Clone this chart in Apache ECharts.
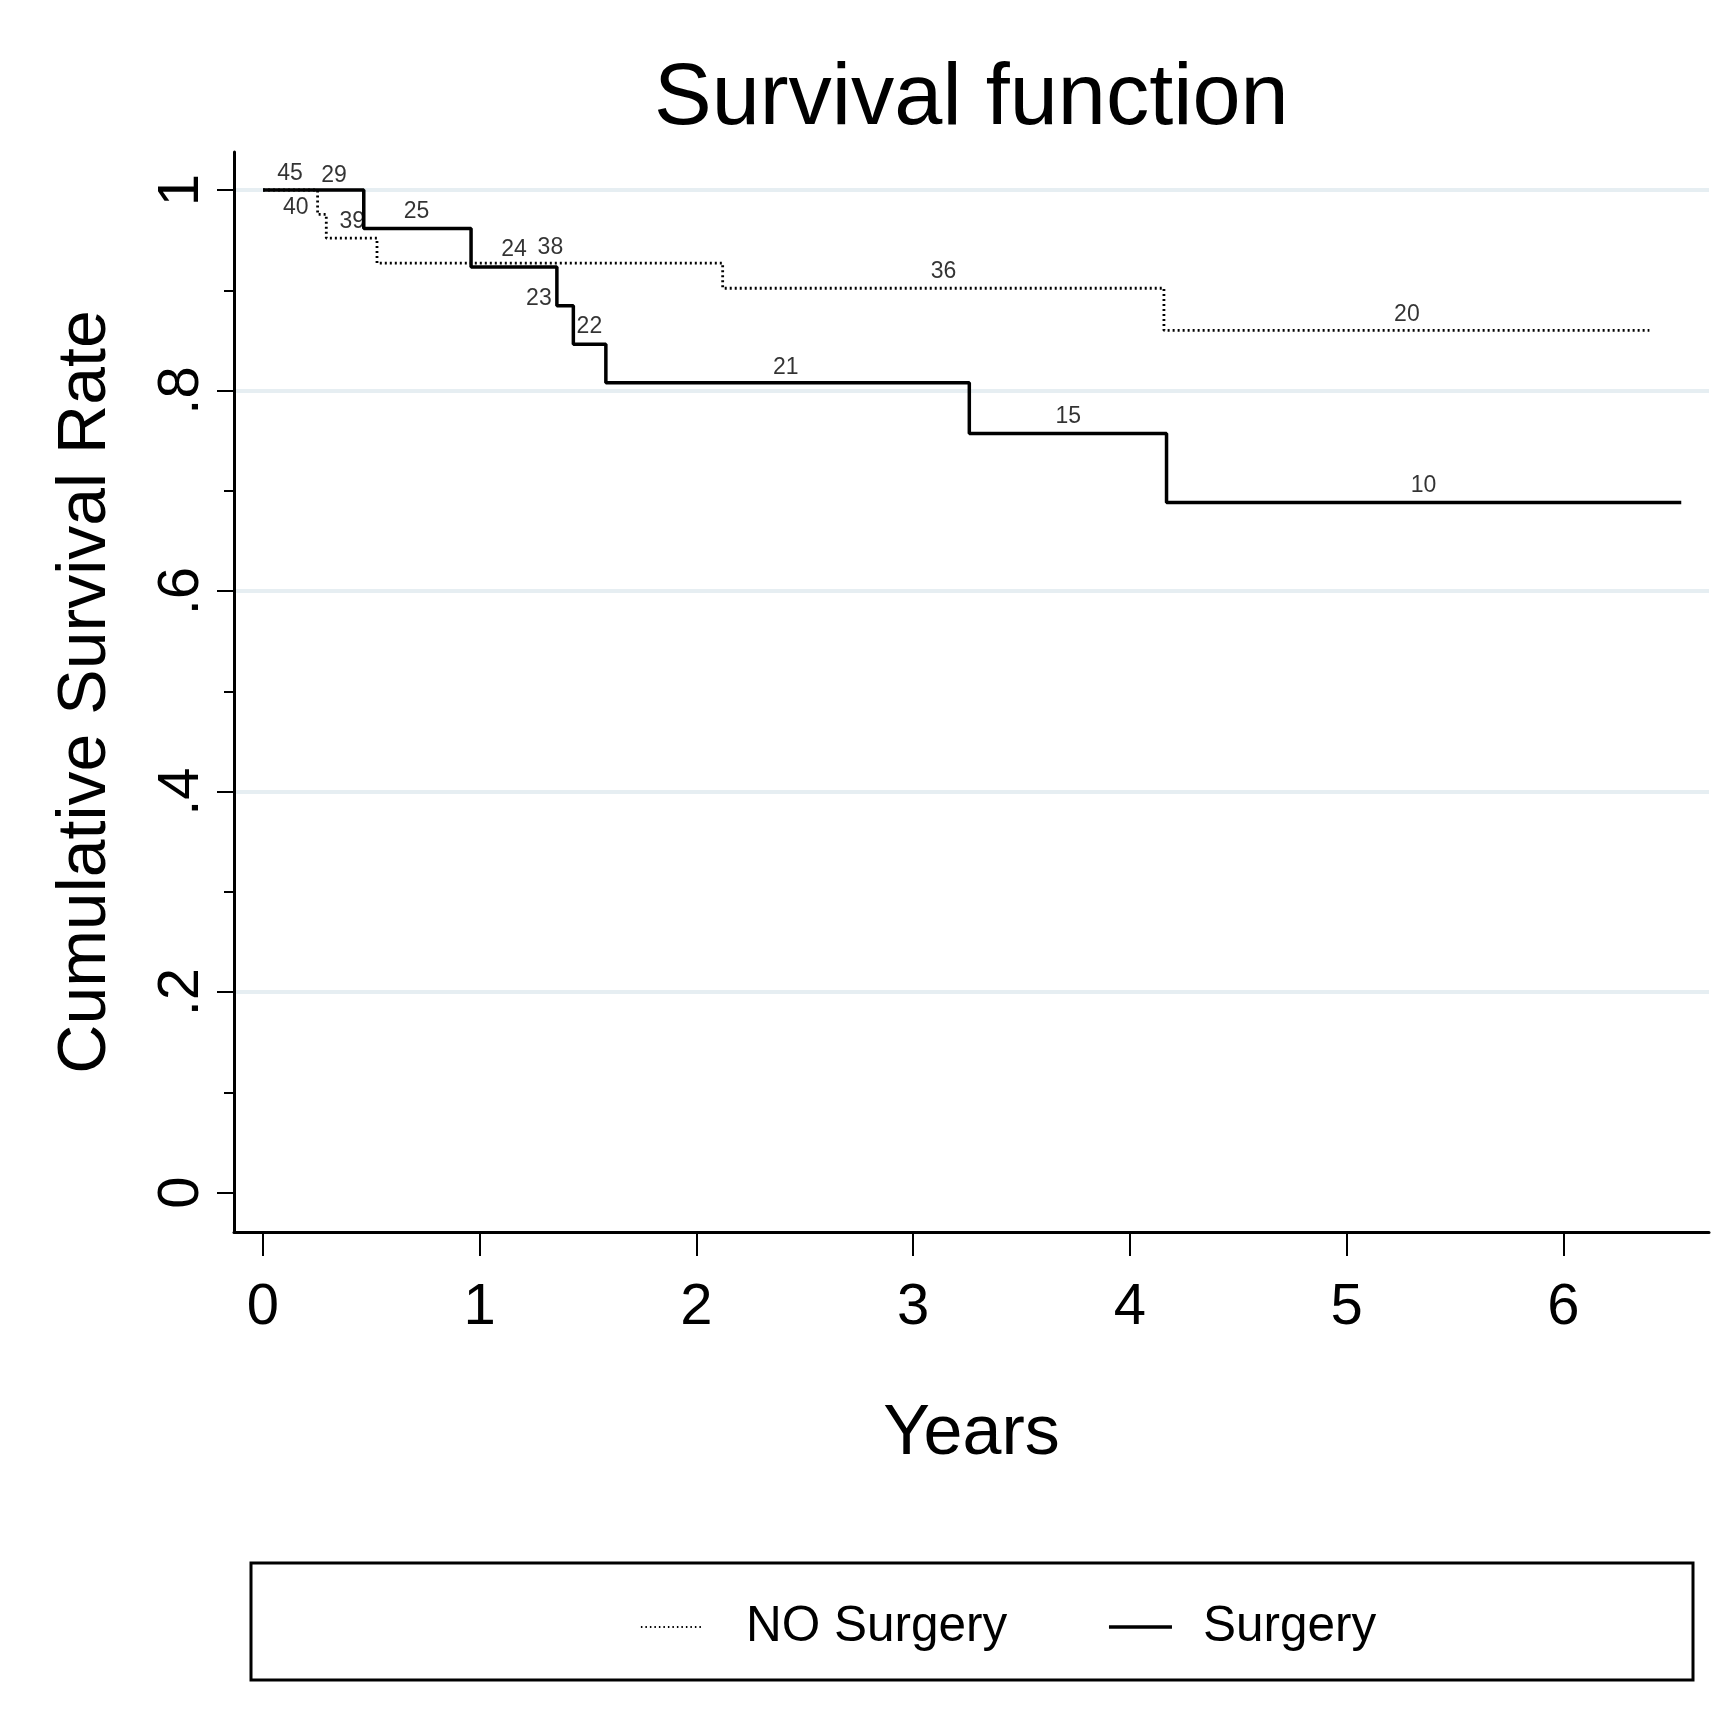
<!DOCTYPE html>
<html>
<head>
<meta charset="utf-8">
<script src="https://cdn.jsdelivr.net/npm/echarts@6/dist/echarts.min.js"></script>
<style>
  html, body { margin: 0; padding: 0; background: #fff; }
  #chart { width: 1732px; height: 1721px; }
</style>
</head>
<body>
<div id="chart"></div>
<script>
// ---- Data ----
const surgeryTime = [0, 0.465, 0.960, 1.356, 1.432, 1.582, 3.259, 4.169, 6.544];
const surgerySurv = [1, 0.9615, 0.9231, 0.8846, 0.8462, 0.8077, 0.7572, 0.6884, 0.6884];

const noSurgeryTime = [0, 0.252, 0.292, 0.526, 2.121, 4.157, 6.397];
const noSurgerySurv = [1, 0.9757, 0.952, 0.927, 0.902, 0.860, 0.860];

// numbers at risk printed along the curves
const riskText = ['45', '29', '40', '39', '25', '24', '38', '23', '22', '21', '36', '15', '20', '10'];
const riskX    = [0.125, 0.328, 0.151, 0.412, 0.708, 1.158, 1.326, 1.273, 1.506, 2.412, 3.140, 3.716, 5.278, 5.355];
const riskY    = [1.0167, 1.0143, 0.9823, 0.9684, 0.9783, 0.9402, 0.9429, 0.8920, 0.8637, 0.8230, 0.9185, 0.7739, 0.8753, 0.7051];

// axes
const xTickValues = [0, 1, 2, 3, 4, 5, 6];
const yTickValues = [0, 0.2, 0.4, 0.6, 0.8, 1];
const yMinorValues = [0.1, 0.3, 0.5, 0.7, 0.9];
const gridValues = [0.2, 0.4, 0.6, 0.8, 1];
const legendNames = ['NO Surgery', 'Surgery'];

// ---- Chart ----
const FONT = '"Liberation Sans", Arial, Helvetica, sans-serif';
const chart = echarts.init(document.getElementById('chart'), null, { renderer: 'canvas' });

function yFmt(v) {
  if (v === 0) return '0';
  if (v === 1) return '1';
  return String(v).replace(/^0/, '');
}

const option = {
  animation: false,
  backgroundColor: '#ffffff',
  title: {
    text: 'Survival function',
    left: 654,
    top: 57,
    padding: 0,
    textStyle: { fontSize: 86.5, fontWeight: 'normal', color: '#000', fontFamily: FONT }
  },
  grid: { left: 234, top: 152, width: 1475, height: 1080, containLabel: false },
  xAxis: {
    type: 'value',
    min: -0.1338,
    max: 6.672,
    z: 10,
    name: 'Years',
    nameLocation: 'middle',
    nameGap: 168,
    nameTextStyle: { fontSize: 70, color: '#000', fontFamily: FONT },
    axisLine: { show: true, onZero: false, lineStyle: { color: '#000', width: 3 } },
    axisTick: { show: true, customValues: xTickValues, length: 24, lineStyle: { color: '#000', width: 2 } },
    axisLabel: { show: true, customValues: xTickValues, margin: 47, fontSize: 58, color: '#000', fontFamily: FONT },
    splitLine: { show: false }
  },
  yAxis: [
    {
      type: 'value',
      min: -0.0392,
      max: 1.0379,
      position: 'left',
      z: 10,
      name: 'Cumulative Survival Rate',
      nameLocation: 'middle',
      nameRotate: 90,
      nameGap: 114,
      nameTextStyle: { fontSize: 68, color: '#000', fontFamily: FONT },
      axisLine: { show: true, onZero: false, lineStyle: { color: '#000', width: 3 } },
      axisTick: { show: true, customValues: yTickValues, length: 17, lineStyle: { color: '#000', width: 2 } },
      axisLabel: { show: true, customValues: yTickValues, rotate: 90, margin: 23, fontSize: 58, color: '#000', fontFamily: FONT, formatter: yFmt },
      splitLine: { show: false }
    },
    {
      type: 'value',
      min: -0.0392,
      max: 1.0379,
      position: 'left',
      z: 10,
      axisLine: { show: false, onZero: false },
      axisTick: { show: true, customValues: yMinorValues, length: 10, lineStyle: { color: '#000', width: 2 } },
      axisLabel: { show: false },
      splitLine: { show: false }
    }
  ],
  legend: {
    data: [
      {
        name: legendNames[0],
        lineStyle: { width: 1.8, type: [1.5, 3], color: '#000' },
        itemStyle: { opacity: 0 },
        textStyle: { fontSize: 49.5, color: '#000', fontFamily: FONT, padding: [0, 0, 0, 37] }
      },
      {
        name: legendNames[1],
        lineStyle: { width: 3.5, type: 'solid', color: '#000' },
        itemStyle: { opacity: 0 },
        textStyle: { fontSize: 49.5, color: '#000', fontFamily: FONT, padding: [0, 0, 0, 26] }
      }
    ],
    left: 640,
    top: 1602,
    orient: 'horizontal',
    padding: 0,
    itemWidth: 63,
    itemHeight: 20,
    itemGap: 100,
    selectedMode: false,
    itemStyle: { opacity: 0, color: 'rgba(0,0,0,0)', borderWidth: 0 },
    textStyle: { fontSize: 49.5, color: '#000', fontFamily: FONT }
  },
  graphic: [
    {
      type: 'rect',
      shape: { x: 251, y: 1563, width: 1442, height: 117 },
      style: { fill: 'none', stroke: '#000', lineWidth: 3 },
      silent: true,
      z: 0
    }
  ],
  series: [
    {
      type: 'line',
      name: '_grid',
      data: [],
      z: 1,
      silent: true,
      markLine: {
        silent: true,
        z: 1,
        symbol: 'none',
        animation: false,
        label: { show: false },
        lineStyle: { color: '#e6eef2', width: 4, type: 'solid' },
        data: gridValues.map(v => ({ yAxis: v }))
      }
    },
    {
      type: 'line',
      name: legendNames[0],
      step: 'end',
      symbol: 'none',
      z: 4,
      itemStyle: { color: '#000' },
      lineStyle: { color: '#000', width: 2.8, type: [2, 3] },
      data: noSurgeryTime.map((t, i) => [t, noSurgerySurv[i]])
    },
    {
      type: 'line',
      name: legendNames[1],
      step: 'end',
      symbol: 'none',
      z: 3,
      itemStyle: { color: '#000' },
      lineStyle: { color: '#000', width: 3.5, type: 'solid' },
      data: surgeryTime.map((t, i) => [t, surgerySurv[i]])
    },
    {
      type: 'scatter',
      name: '_risk',
      symbolSize: 0,
      z: 5,
      silent: true,
      label: {
        show: true,
        position: 'inside',
        fontSize: 23,
        color: '#000',
        fontFamily: FONT,
        formatter: p => riskText[p.dataIndex]
      },
      data: riskX.map((x, i) => [x, riskY[i]])
    }
  ]
};

chart.setOption(option);
</script>
</body>
</html>
